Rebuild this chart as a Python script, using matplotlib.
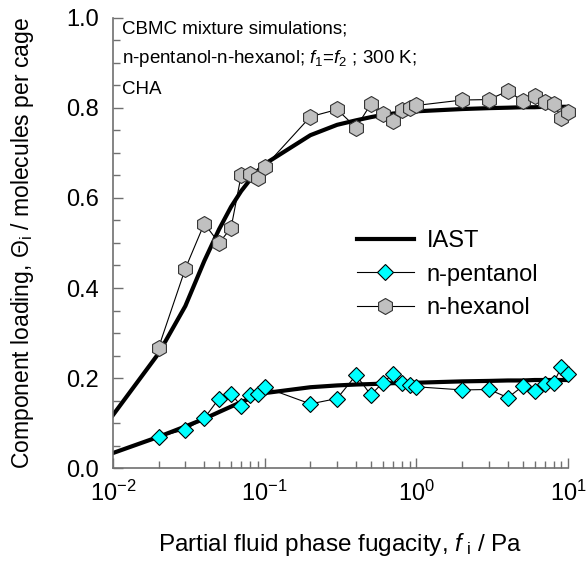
import numpy as np
import matplotlib.pyplot as plt
from matplotlib.ticker import LogLocator, MultipleLocator, FormatStrFormatter

plt.rcParams['font.family'] = ['Liberation Sans', 'DejaVu Sans']
plt.rcParams['mathtext.fontset'] = 'custom'
plt.rcParams['mathtext.rm'] = 'Liberation Sans'
plt.rcParams['mathtext.it'] = 'Liberation Sans:italic'

# CBMC data, fugacity in Pa
f_sim = [0.02, 0.03, 0.04, 0.05, 0.06, 0.07, 0.08, 0.09, 0.1,
         0.2, 0.3, 0.4, 0.5, 0.6, 0.7, 0.8, 0.9, 1.0,
         2, 3, 4, 5, 6, 7, 8, 9, 10]
pentanol = [0.070, 0.086, 0.111, 0.155, 0.166, 0.138, 0.163, 0.166, 0.180,
            0.143, 0.155, 0.207, 0.163, 0.190, 0.209, 0.190, 0.185, 0.181,
            0.174, 0.175, 0.157, 0.182, 0.172, 0.187, 0.190, 0.224, 0.209]
hexanol = [0.268, 0.443, 0.543, 0.500, 0.533, 0.650, 0.653, 0.645, 0.669,
           0.780, 0.796, 0.756, 0.808, 0.787, 0.770, 0.794, 0.800, 0.805,
           0.817, 0.818, 0.837, 0.815, 0.825, 0.813, 0.808, 0.778, 0.791]

# IAST predictions
f_iast = [0.01, 0.02, 0.03, 0.04, 0.05, 0.06, 0.07, 0.08, 0.09, 0.1,
          0.2, 0.3, 0.4, 0.5, 0.6, 0.7, 0.8, 0.9, 1.0,
          2, 3, 4, 5, 6, 7, 8, 9, 10]
iast_pentanol = [0.034, 0.070, 0.093, 0.110, 0.125, 0.137, 0.147, 0.155, 0.161, 0.167,
                 0.180, 0.184, 0.186, 0.187, 0.188, 0.189, 0.189, 0.190, 0.190,
                 0.193, 0.194, 0.195, 0.195, 0.196, 0.196, 0.196, 0.196, 0.196]
iast_hexanol = [0.118, 0.255, 0.360, 0.460, 0.530, 0.580, 0.615, 0.640, 0.660, 0.675,
                0.739, 0.762, 0.772, 0.779, 0.784, 0.787, 0.789, 0.791, 0.792,
                0.797, 0.799, 0.800, 0.801, 0.801, 0.802, 0.802, 0.802, 0.802]

fs = 17

fig = plt.figure(figsize=(5.88, 5.65), dpi=100)
ax = fig.add_axes([0.192, 0.171, 0.7745, 0.798])

ax.plot(f_iast, iast_hexanol, color='black', lw=3, label='IAST', zorder=2)
ax.plot(f_iast, iast_pentanol, color='black', lw=3, zorder=2)
ax.plot(f_sim, pentanol, '-', color='black', lw=0.8, marker='D', ms=8,
        mfc='#00FFFF', mec='black', mew=0.8, label='n-pentanol', zorder=3, clip_on=False)
ax.plot(f_sim, hexanol, '-', color='black', lw=0.8, marker='h', ms=11.5,
        mfc='#C0C0C0', mec='#333333', mew=0.8, label='n-hexanol', zorder=3, clip_on=False)

ax.set_xscale('log')
ax.set_xlim(0.01, 10)
ax.set_ylim(0, 1.0)

ax.spines['top'].set_visible(False)
ax.spines['right'].set_visible(False)
for s in ('left', 'bottom'):
    ax.spines[s].set_color('#707070')
    ax.spines[s].set_linewidth(1.2)

ax.xaxis.set_major_locator(LogLocator(base=10, numticks=10))
ax.xaxis.set_minor_locator(LogLocator(base=10, subs=np.arange(2, 10), numticks=10))
ax.yaxis.set_major_locator(MultipleLocator(0.2))
ax.yaxis.set_minor_locator(MultipleLocator(0.05))
ax.yaxis.set_major_formatter(FormatStrFormatter('%.1f'))
ax.tick_params(which='both', direction='in', color='#707070', labelsize=fs)
ax.tick_params(which='major', length=7, width=1)
ax.tick_params(which='minor', length=5, width=1)
ax.tick_params(axis='x', pad=9)
ax.tick_params(axis='y', pad=10)

ax.set_xlabel(r'Partial fluid phase fugacity, $f_{\rm \ i}$ / Pa', fontsize=17.5, labelpad=18)
ax.set_ylabel(r'Component loading, $\Theta_{\rm i}$ / molecules per cage', fontsize=16.5, labelpad=22)

ax.text(0.0115, 0.975, 'CBMC mixture simulations;', fontsize=13.5, va='center')
ax.text(0.0115, 0.908, r'n-pentanol-n-hexanol; $f_1$=$f_2$ ; 300 K;', fontsize=13.5, va='center')
ax.text(0.0115, 0.840, 'CHA', fontsize=13.5, va='center')

ax.legend(loc='upper left', bbox_to_anchor=(0.515, 0.55), frameon=False, fontsize=fs,
          handlelength=2.4, handletextpad=0.55, labelspacing=0.5, borderaxespad=0)

fig.savefig('out.png', dpi=100)
